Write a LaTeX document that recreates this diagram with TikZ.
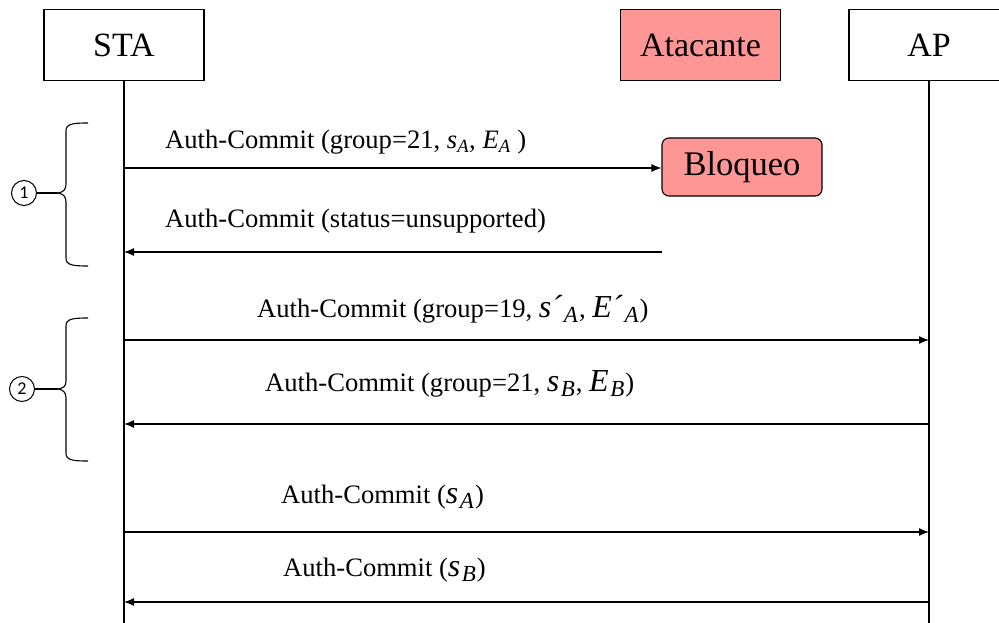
\documentclass[tikz,border=0pt]{standalone}
\usepackage{fontspec}
\setmainfont{Liberation Serif}
\newfontfamily\numfont{Carlito}
\usetikzlibrary{arrows.meta}
\definecolor{alarm}{RGB}{255,150,150}

% small italic symbol with subscript (first message)
\newcommand{\symsm}[2]{\textit{#1}\textsubscript{\textit{#2}}}
% larger italic symbol with subscript (math-style messages)
\newcommand{\symlg}[2]{{\fontsize{32}{32}\selectfont\textit{#1}}\kern1.5pt\raisebox{-5pt}{\fontsize{23}{23}\selectfont\textit{#2}}\kern1pt}

\tikzset{
  actor/.style={draw, line width=1.1pt, minimum width=160pt, minimum height=71pt,
                font=\fontsize{34}{34}\selectfont, inner sep=0pt},
  badactor/.style={actor, fill=alarm},
  block/.style={draw, line width=1.1pt, fill=alarm, rounded corners=7pt,
                minimum width=160pt, minimum height=58pt,
                font=\fontsize{34.5}{34.5}\selectfont, inner sep=0pt},
  lifeline/.style={line width=1.2pt},
  msg/.style={line width=1.2pt, -{Latex[length=10pt,width=8pt]}},
  msglabel/.style={anchor=west, inner sep=0pt, font=\fontsize{26.6}{26.6}\selectfont},
  bracket/.style={line width=1.1pt},
  step number/.style={draw, circle, line width=1pt, minimum size=25pt, inner sep=0pt,
                font=\numfont\fontsize{18}{18}\selectfont}
}

\begin{document}
\begin{tikzpicture}[x=1pt, y=-1pt]
  \useasboundingbox (0,0) rectangle (999,623);

  % participants
  \node[actor]    (sta) at (124,45)   {STA};
  \node[badactor] (att) at (700.5,45) {Atacante};
  \node[actor]    (ap)  at (929,45)   {AP};
  \node[block]    (blk) at (742,167)  {Bloqueo};

  % lifelines
  \coordinate (staend) at (124,623);
  \coordinate (apend)  at (929,623);
  \draw[lifeline] (sta.south) -- (staend);
  \draw[lifeline] (ap.south) -- (apend);

  % points on the lifelines
  \coordinate (s1) at (124,168);
  \coordinate (s2) at (124,252);
  \coordinate (b2) at (662,252);
  \coordinate (s3) at (124,340);
  \coordinate (a3) at (929,340);
  \coordinate (s4) at (124,424);
  \coordinate (a4) at (929,424);
  \coordinate (s5) at (124,532);
  \coordinate (a5) at (929,532);
  \coordinate (s6) at (124,602);
  \coordinate (a6) at (929,602);

  % messages
  \draw[msg] (s1) -- (s1 -| blk.west);
  \draw[msg] (b2) -- (s2);
  \draw[msg] (s3) -- (a3);
  \draw[msg] (a4) -- (s4);
  \draw[msg] (s5) -- (a5);
  \draw[msg] (a6) -- (s6);

  % message labels
  \node[msglabel] (l1) at (165,142) {Auth-Commit (group=21, \symsm{s}{A}, \symsm{E}{A} )};
  \node[msglabel] (l2) at (165,221) {Auth-Commit (status=unsupported)};
  \node[msglabel] (l3) at (257,309) {Auth-Commit (group=19, \symlg{s´}{A}, \symlg{E´}{A})};
  \node[msglabel] (l4) at (265,384) {Auth-Commit (group=21, \symlg{s}{B}, \symlg{E}{B})};
  \node[msglabel] (l5) at (281,497) {Auth-Commit (\symlg{s}{A})};
  \node[msglabel] (l6) at (283,570) {Auth-Commit (\symlg{s}{B})};

  % phase brackets
  \draw[bracket] (88,123) .. controls (72,123) and (66,124) .. (66,131) -- (66,184)
        .. controls (66,190) and (63,192) .. (58,193)
        .. controls (63,194) and (66,196) .. (66,202) -- (66,258)
        .. controls (66,265) and (72,266) .. (88,266);
  \draw[bracket] (88,318) .. controls (72,318) and (66,319) .. (66,326) -- (66,381)
        .. controls (66,387) and (63,388) .. (58,389)
        .. controls (63,390) and (66,392) .. (66,398) -- (66,453)
        .. controls (66,460) and (72,461) .. (88,461);
  \coordinate (t1) at (58,193);
  \coordinate (t2) at (58,389);
  \node[step number] (n1) at (24,193) {1};
  \node[step number] (n2) at (22,389) {2};
  \draw[bracket] (n1.east) -- (t1);
  \draw[bracket] (n2.east) -- (t2);
\end{tikzpicture}
\end{document}
